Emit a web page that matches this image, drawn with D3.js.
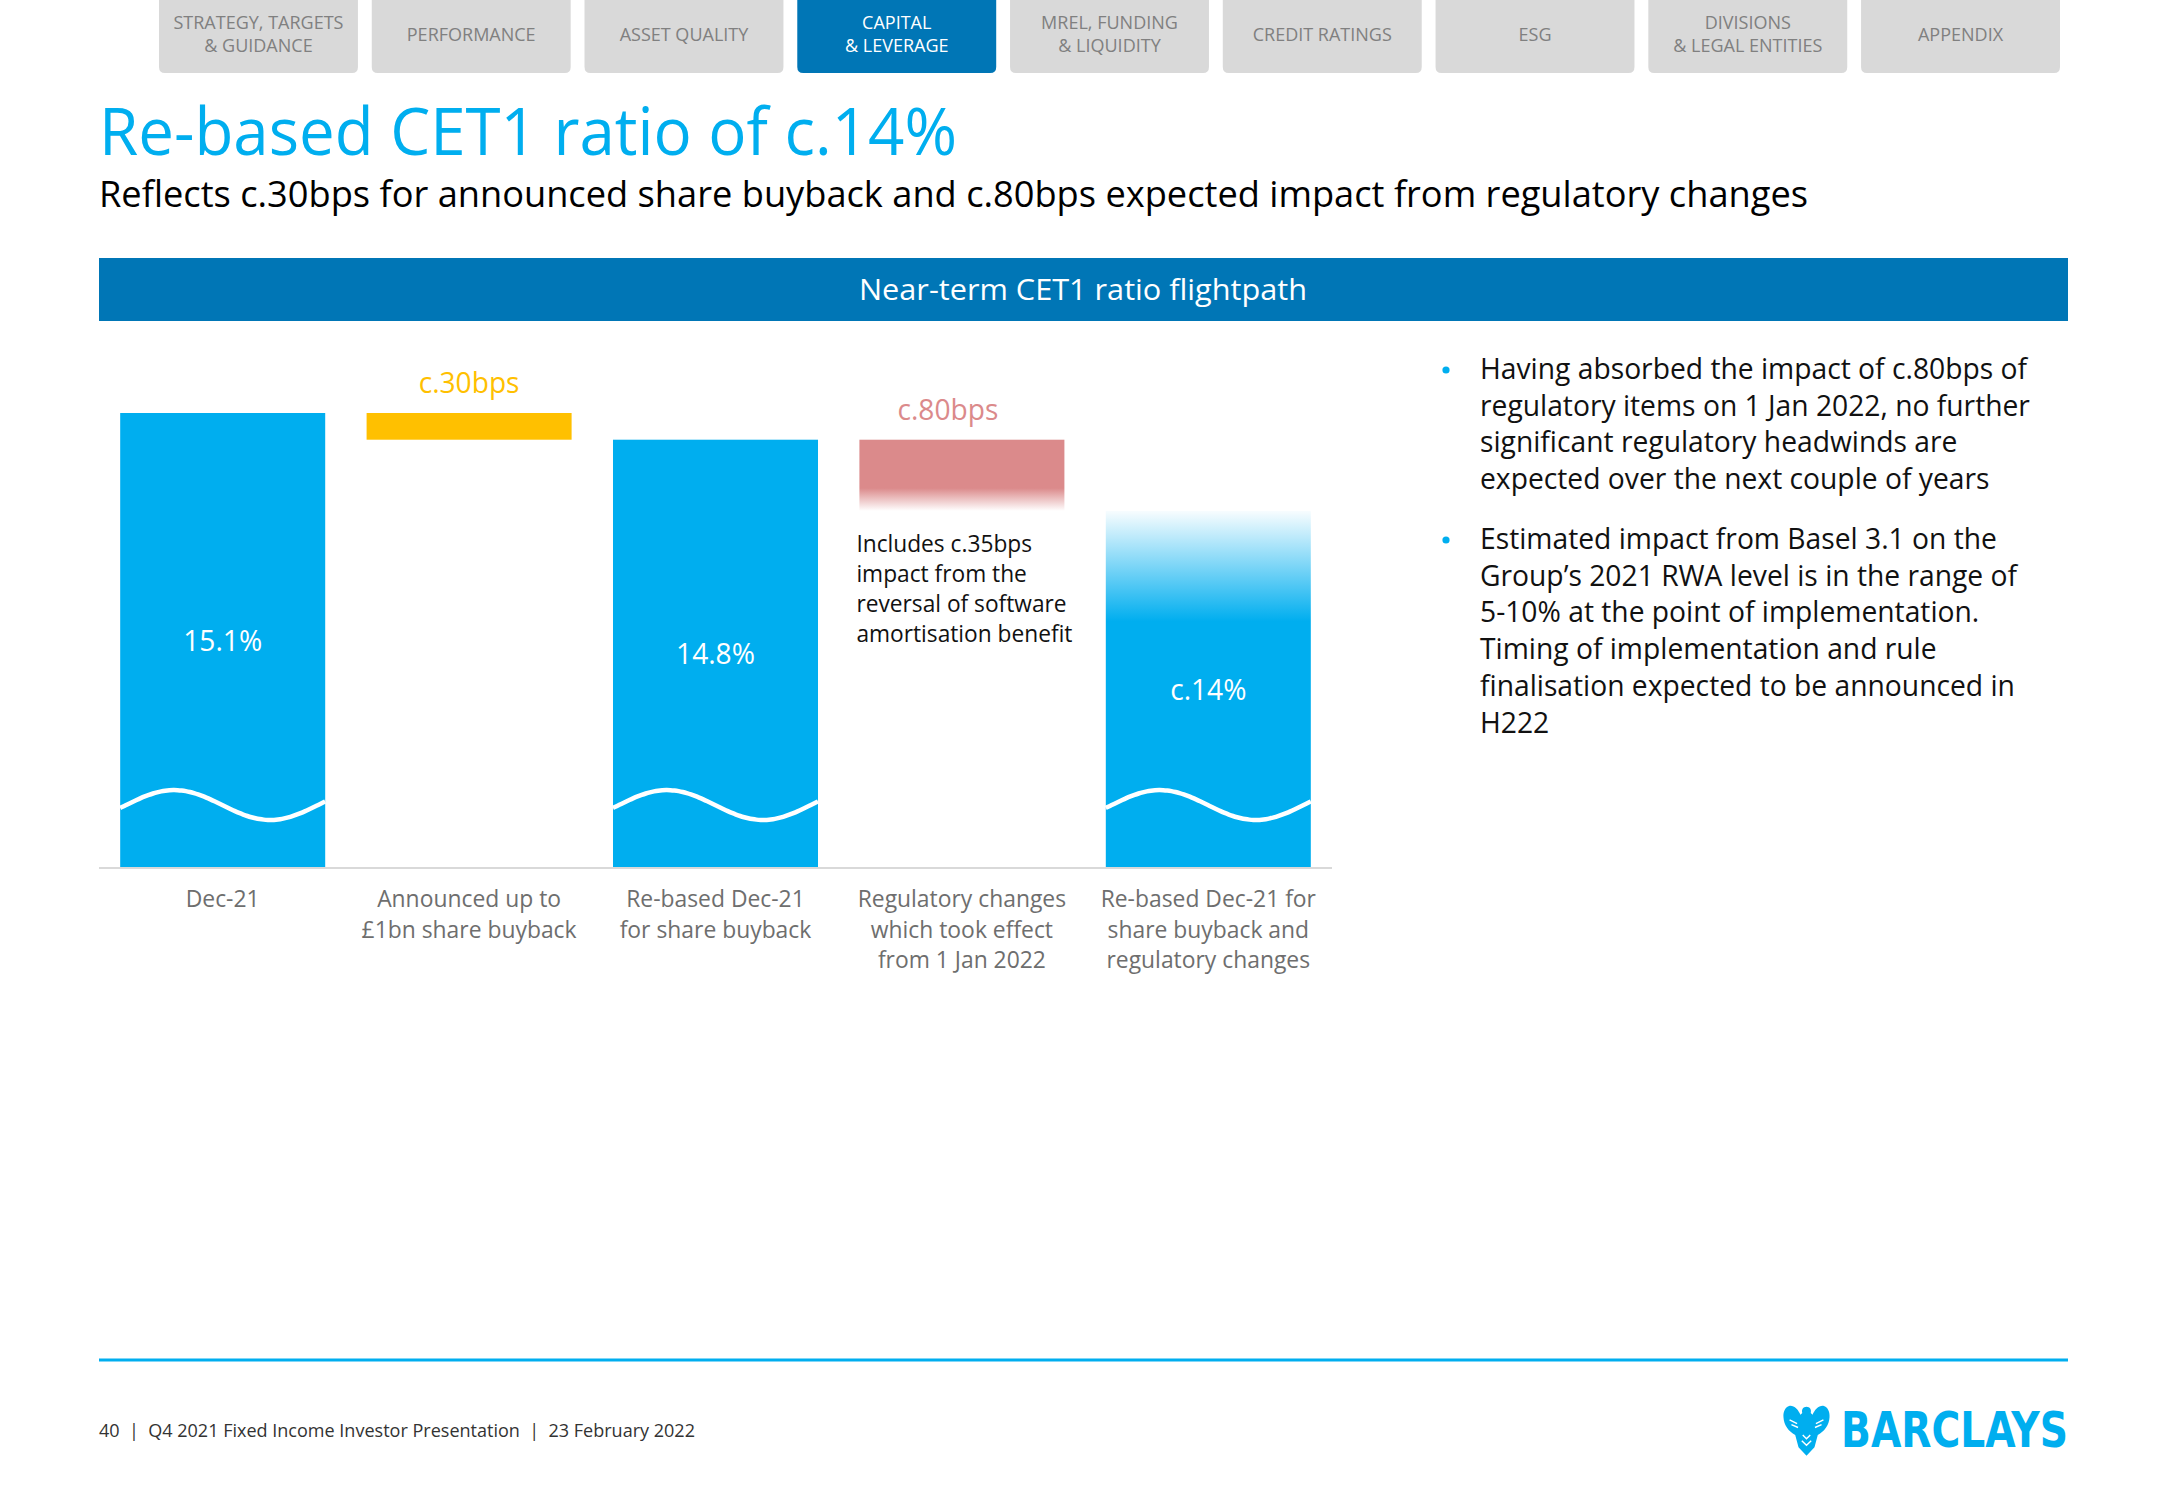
<!DOCTYPE html>
<html><head><meta charset="utf-8">
<script src="https://cdn.jsdelivr.net/npm/d3@7"></script>
<style>
html,body{margin:0;padding:0;background:#fff}
svg{display:block}
text{font-family:"Open Sans","Noto Sans",sans-serif}
</style></head>
<body>
<svg id="chart" width="2166" height="1500"></svg>
<script>
// ---------------- DATA ----------------
const navTabs = [
  ["STRATEGY, TARGETS", "& GUIDANCE"],
  ["PERFORMANCE"],
  ["ASSET QUALITY"],
  ["CAPITAL", "& LEVERAGE"],
  ["MREL, FUNDING", "& LIQUIDITY"],
  ["CREDIT RATINGS"],
  ["ESG"],
  ["DIVISIONS", "& LEGAL ENTITIES"],
  ["APPENDIX"]
];
const activeTabIndex = 3;
const titleText = "Re-based CET1 ratio of c.14%";
const subtitleText = "Reflects c.30bps for announced share buyback and c.80bps expected impact from regulatory changes";
const panelTitle = "Near-term CET1 ratio flightpath";

const categories = [
  ["Dec-21"],
  ["Announced up to", "£1bn share buyback"],
  ["Re-based Dec-21", "for share buyback"],
  ["Regulatory changes", "which took effect", "from 1 Jan 2022"],
  ["Re-based Dec-21 for", "share buyback and", "regulatory changes"]
];
const barKinds  = ["total", "delta", "total", "delta", "total"];
const barValues = [15.1, -0.3, 14.8, -0.8, 14.0];          // CET1 ratio %, deltas in % points
const barLabels = ["15.1%", "c.30bps", "14.8%", "c.80bps", "c.14%"];
const axisBreakValue = 10;                                   // visible axis starts above zero (broken axis)
const annotationLines = ["Includes c.35bps", "impact from the", "reversal of software", "amortisation benefit"];

const bullets = [
  ["Having absorbed the impact of c.80bps of", "regulatory items on 1 Jan 2022, no further", "significant regulatory headwinds are", "expected over the next couple of years"],
  ["Estimated impact from Basel 3.1 on the", "Group\u2019s 2021 RWA level is in the range of", "5-10% at the point of implementation.", "Timing of implementation and rule", "finalisation expected to be announced in", "H222"]
];
const footerText = "40  |  Q4 2021 Fixed Income Investor Presentation  |  23 February 2022";

// ---------------- STYLE ----------------
const C = {
  cyan: "#00AEEF", navy: "#0076B6", tab: "#D9D9D9", tabText: "#808080",
  yellow: "#FFC000", red: "#DB8A8B", axis: "#D9D9D9", catText: "#6E6E6E"
};

const svg = d3.select("#chart");
const defs = svg.append("defs");

function fitWidth(sel, width) {
  sel.each(function () {
    d3.select(this).attr("textLength", width).attr("lengthAdjust", "spacingAndGlyphs");
  });
}
function squeeze(sel, factor) {
  sel.each(function () {
    const w = this.getComputedTextLength();
    d3.select(this).attr("textLength", w * factor).attr("lengthAdjust", "spacingAndGlyphs");
  });
}

// ---------------- NAV TABS ----------------
const tabX = d3.scaleBand().domain(d3.range(navTabs.length)).range([159, 2060]).paddingInner(0.065);
const tabH = 73, tabR = 6;
const tabs = svg.append("g").selectAll("g").data(navTabs).join("g")
  .attr("transform", (d, i) => `translate(${tabX(i)},0)`);
tabs.append("path")
  .attr("d", () => {
    const w = tabX.bandwidth();
    return `M0,0 H${w} V${tabH - tabR} Q${w},${tabH} ${w - tabR},${tabH} H${tabR} Q0,${tabH} 0,${tabH - tabR} Z`;
  })
  .attr("fill", (d, i) => i === activeTabIndex ? C.navy : C.tab);
tabs.each(function (d, i) {
  const g = d3.select(this);
  const cy = d.length === 1 ? [34.5] : [22.5, 46];
  d.forEach((line, j) => {
    g.append("text").attr("class", "tt").attr("x", tabX.bandwidth() / 2).attr("y", cy[j] + 6)
      .attr("text-anchor", "middle").attr("font-size", 17.5)
      .attr("fill", i === activeTabIndex ? "#fff" : C.tabText)
      .text(line);
  });
});
{
  const ref = tabs.selectAll("text.tt").nodes()[0];
  squeeze(tabs.selectAll("text.tt"), 170 / ref.getComputedTextLength());
}

// ---------------- TITLES ----------------
const t1 = svg.append("text").attr("x", 99).attr("y", 155).attr("font-size", 66)
  .attr("fill", C.cyan).text(titleText);
fitWidth(t1, 858);
const t2 = svg.append("text").attr("x", 99).attr("y", 207).attr("font-size", 36)
  .attr("fill", "#000").text(subtitleText);
fitWidth(t2, 1709);

svg.append("rect").attr("x", 99).attr("y", 258).attr("width", 1969).attr("height", 63).attr("fill", C.navy);
const ph = svg.append("text").attr("x", 1083).attr("y", 300).attr("text-anchor", "middle")
  .attr("font-size", 30).attr("fill", "#fff").text(panelTitle);
fitWidth(ph, 448);

// ---------------- CHART ----------------
const x = d3.scaleBand().domain(d3.range(categories.length)).range([99, 1332])
  .paddingInner(0.168).paddingOuter(0.086);
const y = d3.scaleLinear().domain([axisBreakValue, barValues[0]]).range([867, 413]);

// compute waterfall extents
let running = 0;
const bars = barValues.map((v, i) => {
  let top, bottom;
  if (barKinds[i] === "total") { running = v; top = v; bottom = axisBreakValue; }
  else { top = running; bottom = running + v; running = running + v; }
  return { i, kind: barKinds[i], value: v, top, bottom, label: barLabels[i] };
});

// gradients
const gRed = defs.append("linearGradient").attr("id", "gRed").attr("x1", 0).attr("y1", 0).attr("x2", 0).attr("y2", 1);
gRed.append("stop").attr("offset", "0%").attr("stop-color", C.red);
gRed.append("stop").attr("offset", "68%").attr("stop-color", C.red);
gRed.append("stop").attr("offset", "100%").attr("stop-color", C.red).attr("stop-opacity", 0);
const gBlue = defs.append("linearGradient").attr("id", "gBlue").attr("x1", 0).attr("y1", 0).attr("x2", 0).attr("y2", 1);
gBlue.append("stop").attr("offset", "0%").attr("stop-color", C.cyan).attr("stop-opacity", 0.03);
gBlue.append("stop").attr("offset", "31%").attr("stop-color", C.cyan).attr("stop-opacity", 1);
gBlue.append("stop").attr("offset", "100%").attr("stop-color", C.cyan);

const lastIdx = bars.length - 1;
const fillFor = b => {
  if (b.kind === "total") return b.i === lastIdx ? "url(#gBlue)" : C.cyan;
  return b.i === 1 ? C.yellow : "url(#gRed)";
};

const chart = svg.append("g");
chart.selectAll("rect.bar").data(bars).join("rect").attr("class", "bar")
  .attr("x", b => x(b.i)).attr("width", x.bandwidth())
  .attr("y", b => y(b.top)).attr("height", b => y(b.bottom) - y(b.top))
  .attr("fill", fillFor);

// wave (axis-break marker) on total bars
const waveCenter = y(axisBreakValue) - 62, waveAmp = 15;
const wave = d3.line().curve(d3.curveBasis);
chart.selectAll("path.wave").data(bars.filter(b => b.kind === "total")).join("path").attr("class", "wave")
  .attr("d", b => {
    const x0 = x(b.i), w = x.bandwidth();
    const pts = d3.range(0, 1.0001, 0.02).map(t => [x0 + t * w,
      waveCenter - waveAmp * Math.sin(Math.PI / 2 + (t - 0.263) * Math.PI / 0.468)]);
    return wave(pts);
  })
  .attr("fill", "none").attr("stroke", "#fff").attr("stroke-width", 4.5);

// baseline axis
chart.append("line").attr("x1", x.range()[0]).attr("x2", x.range()[1])
  .attr("y1", y(axisBreakValue) + 1).attr("y2", y(axisBreakValue) + 1)
  .attr("stroke", C.axis).attr("stroke-width", 2);

// value labels
chart.selectAll("text.val").data(bars).join("text").attr("class", "val")
  .attr("x", b => x(b.i) + x.bandwidth() / 2 - (b.i === 3 ? 14 : 0))
  .attr("y", b => b.kind === "total" ? (y(b.top) + y(b.bottom)) / 2 + 11 : y(b.top) - 20)
  .attr("text-anchor", "middle").attr("font-size", 29)
  .attr("fill", b => b.kind === "total" ? "#fff" : (b.i === 1 ? C.yellow : C.red))
  .text(b => b.label)
  .call(s => squeeze(s, 0.97));

// annotation below the regulatory delta
const ann = chart.append("g");
annotationLines.forEach((l, j) => {
  ann.append("text").attr("x", x(3) - 3).attr("y", y(bars[3].bottom) + 41 + j * 30)
    .attr("font-size", 23).attr("fill", "#111").text(l);
});
{
  const ref = ann.selectAll("text").nodes()[3];
  squeeze(ann.selectAll("text"), 216 / ref.getComputedTextLength());
}

// category labels
const cat = chart.append("g");
categories.forEach((lines, i) => {
  lines.forEach((l, j) => {
    cat.append("text").attr("x", x(i) + x.bandwidth() / 2).attr("y", y(axisBreakValue) + 40 + j * 30.5)
      .attr("text-anchor", "middle").attr("font-size", 23).attr("fill", C.catText).text(l);
  });
});
{
  const ref = cat.selectAll("text").nodes()[2];
  squeeze(cat.selectAll("text"), 215 / ref.getComputedTextLength());
}

// ---------------- BULLETS ----------------
const bul = svg.append("g");
const bulletTop = [379, 549];
bullets.forEach((lines, k) => {
  bul.append("circle").attr("cx", 1446).attr("cy", bulletTop[k] - 9).attr("r", 3.6).attr("fill", C.cyan);
  lines.forEach((l, j) => {
    bul.append("text").attr("class", "bt").attr("x", 1480).attr("y", bulletTop[k] + j * 36.7)
      .attr("font-size", 29).attr("fill", "#111").text(l);
  });
});
{
  const ref = bul.selectAll("text.bt").nodes()[0];
  squeeze(bul.selectAll("text.bt"), 547 / ref.getComputedTextLength());
}

// ---------------- FOOTER ----------------
svg.append("line").attr("x1", 99).attr("x2", 2068).attr("y1", 1360).attr("y2", 1360)
  .attr("stroke", C.cyan).attr("stroke-width", 3);
const ft = svg.append("text").attr("x", 99).attr("y", 1437).attr("font-size", 17.5)
  .attr("fill", "#333").attr("xml:space", "preserve").style("white-space", "pre").text(footerText);
fitWidth(ft, 596);

// logo
const logo = svg.append("g").attr("transform", "translate(1783,1404) scale(0.47)");
logo.append("path").attr("fill", C.cyan).attr("d",
  "M50,6 C57,6 61,12 59,19 L63,23 C67,12 77,2 87,4 C94,6 100,15 99,28 C98,45 88,58 74,66 L67,92 L50,110 L33,92 L26,66 C12,58 2,45 1,28 C0,15 6,6 13,4 C23,2 33,12 37,23 L41,19 C39,12 43,6 50,6 Z");
logo.append("path").attr("fill", "none").attr("stroke", "#fff").attr("stroke-width", 3)
  .attr("d", "M18,44 L32,50 M14,34 L30,42 M82,44 L68,50 M86,34 L70,42 M40,78 L50,88 L60,78 M42,66 L50,74 L58,66");
const lt = svg.append("text").attr("x", 1841).attr("y", 1447).attr("font-size", 50)
  .attr("font-weight", 700).attr("fill", C.cyan)
  .style("font-family", "'Liberation Sans Narrow','DejaVu Sans Condensed','Liberation Sans',sans-serif")
  .text("BARCLAYS");
fitWidth(lt, 227);
</script>
</body></html>
